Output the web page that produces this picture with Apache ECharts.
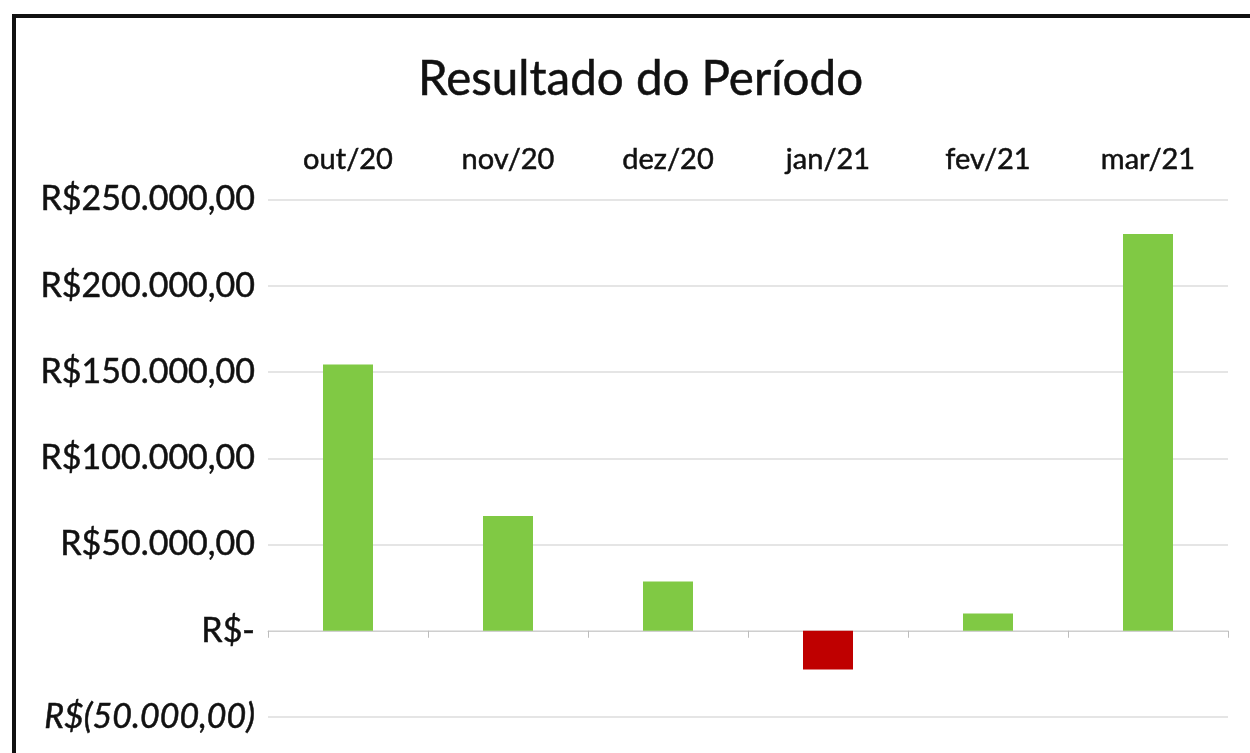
<!DOCTYPE html>
<html>
<head>
<meta charset="utf-8">
<script src="https://cdn.jsdelivr.net/npm/echarts@6/dist/echarts.min.js"></script>
<style>
  html, body { margin: 0; padding: 0; background: #fff; }
  #chart { position: absolute; left: 0; top: 0; width: 1250px; height: 753px; }
  #frame { position: absolute; left: 12px; top: 14px; width: 1260px; height: 760px;
           border-left: 4px solid #111; border-top: 4px solid #111; pointer-events: none; }
</style>
</head>
<body>
<div id="chart"></div>
<div id="frame"></div>
<script>
const titleText = 'Resultado do Período';
const categories = ['out/20', 'nov/20', 'dez/20', 'jan/21', 'fev/21', 'mar/21'];
const values = [154300, 66500, 28500, -22500, 10000, 230000];
const yTicks = { min: -50000, max: 250000, interval: 50000 };

const FONT = 'Lato';
const emb = { textBorderColor: '#111', textBorderWidth: 0.5 };

function fmtBRL(v) {
  if (v === 0) return 'R$-';
  const abs = Math.abs(v);
  const s = abs.toFixed(2).split('.');
  const intPart = s[0].replace(/\B(?=(\d{3})+(?!\d))/g, '.');
  const txt = intPart + ',' + s[1];
  return v < 0 ? '{neg|R$(' + txt + ')}' : 'R$' + txt;
}

const chart = echarts.init(document.getElementById('chart'), null, { renderer: 'canvas' });
chart.setOption({
  animation: false,
  backgroundColor: 'transparent',
  title: {
    text: titleText,
    left: 413,
    top: 51,
    textStyle: Object.assign({ fontFamily: FONT, fontSize: 47.5, fontWeight: 'normal', color: '#111' }, emb)
  },
  grid: { left: 268, right: 22, top: 199.5, bottom: 36, containLabel: false },
  xAxis: [
    {
      type: 'category',
      data: categories,
      position: 'bottom',
      boundaryGap: true,
      axisLine: { onZero: true, lineStyle: { color: '#cfcfcf', width: 1 } },
      axisTick: { show: true, length: 7, lineStyle: { color: '#bdbdbd' } },
      axisLabel: { show: false }
    },
    {
      type: 'category',
      data: categories,
      position: 'top',
      boundaryGap: true,
      axisLine: { show: false },
      axisTick: { show: false },
      axisLabel: Object.assign({ show: true, margin: 25, fontFamily: FONT, fontSize: 29, color: '#111' }, emb)
    }
  ],
  yAxis: {
    type: 'value',
    min: yTicks.min,
    max: yTicks.max,
    interval: yTicks.interval,
    axisLine: { show: false },
    axisTick: { show: false },
    splitLine: { show: true, lineStyle: { color: '#dcdcdc', width: 1.5 } },
    axisLabel: Object.assign({
      margin: 13,
      fontFamily: FONT,
      fontSize: 34,
      color: '#111',
      formatter: fmtBRL,
      rich: { neg: Object.assign({ fontFamily: FONT, fontSize: 34, fontStyle: 'italic', color: '#111' }, emb) }
    }, emb)
  },
  series: [{
    type: 'bar',
    xAxisIndex: 0,
    data: values.map(v => ({ value: v, itemStyle: { color: v < 0 ? '#bf0000' : '#80c944' } })),
    barWidth: 50
  }]
});
</script>
</body>
</html>
